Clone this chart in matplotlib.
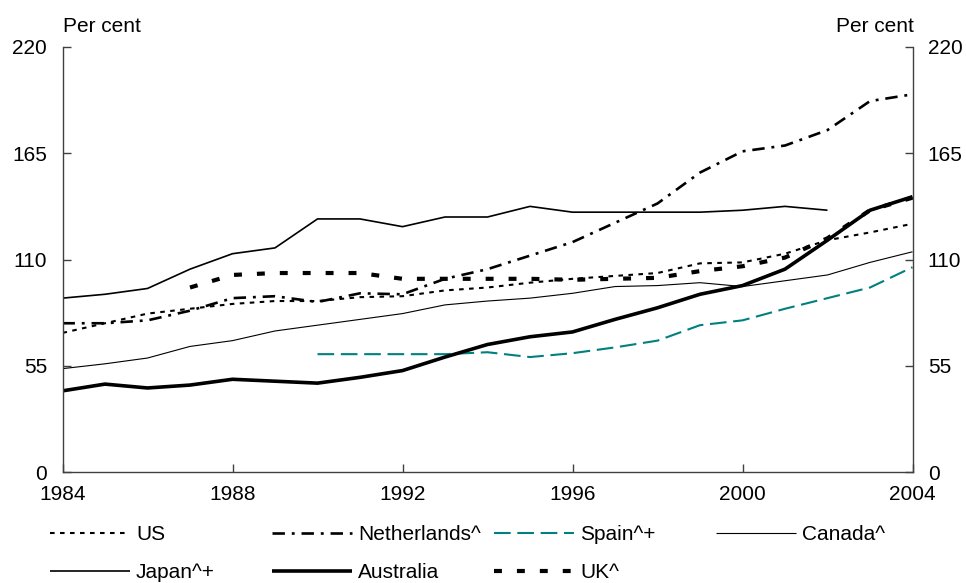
import numpy as np
import matplotlib
matplotlib.use("Agg")
import matplotlib.pyplot as plt

plt.rcParams['font.family'] = ['Liberation Sans', 'DejaVu Sans']

years = list(range(1984, 2005))
nan = np.nan
us = [72, 77, 82, 84.5, 87, 88.5, 88.5, 90.5, 91, 94, 95.5, 98, 100, 101.5, 103,
      108, 108.5, 113, 120, 124, 128.5]
netherlands = [77, 77, 78.5, 83.5, 90, 91, 88, 92.5, 92, 100, 105, 112, 119, 129,
               139, 155, 166, 169, 177, 192, 195.5]
spain = [nan, nan, nan, nan, nan, nan, 61, 61, 61, 61, 62, 59.5, 61.5, 64.5, 68,
         76, 78.5, 84.5, 90, 95.5, 106]
canada = [53.5, 56, 59, 65, 68, 73, 76, 79, 82, 86.5, 88.5, 90, 92.5, 96, 96.5,
          98, 96, 99, 102, 108.5, 114]
japan = [90, 92, 95, 105, 113, 116, 131, 131, 127, 132, 132, 137.5, 134.5, 134.5,
         134.5, 134.5, 135.5, 137.5, 135.5, nan, nan]
australia = [42, 45.5, 43.5, 45, 48, 47, 46, 49, 52.5, 59.5, 66, 70, 72.5, 79, 85,
             92, 96.5, 105, 120, 135.5, 142.5]
uk = [nan, nan, nan, 95.5, 102, 103, 103, 103, 100, 100, 100, 100, 99.5, 100,
      100.5, 104, 106.5, 111, 121, 135.5, 142]

yticks = [0, 55, 110, 165, 220]
xticks = [1984, 1988, 1992, 1996, 2000, 2004]

series = [
    ("US", us, dict(color='black', lw=1.5, linestyle=(0, (2.2, 2.6)))),
    ("Netherlands^", netherlands, dict(color='black', lw=1.9, linestyle=(0, (4.7, 2.6, 1.1, 2.6)))),
    ("Spain^+", spain, dict(color='#008080', lw=1.5, linestyle=(0, (8.0, 3.2)))),
    ("Canada^", canada, dict(color='black', lw=0.8, linestyle='-')),
    ("Japan^+", japan, dict(color='black', lw=1.2, linestyle='-')),
    ("Australia", australia, dict(color='black', lw=2.6, linestyle='-')),
    ("UK^", uk, dict(color='black', lw=3.0, linestyle=(0, (1.9, 3.6)))),
]

W, H = 966, 583
fig = plt.figure(figsize=(W / 100, H / 100), dpi=100)
ax = fig.add_axes([62.5 / W, 1 - 472 / H, (912.5 - 62.5) / W, (472 - 47) / H])

handles = []
for name, vals, style in series:
    (ln,) = ax.plot(years, vals, label=name, solid_capstyle='butt',
                    dash_capstyle='butt', **style)
    handles.append(ln)

ax.set_xlim(1984, 2004)
ax.set_ylim(0, 220)
ax.set_xticks(xticks)
ax.set_yticks(yticks)
spine_col = '#404040'
for s in ['left', 'right', 'bottom']:
    ax.spines[s].set_color(spine_col)
    ax.spines[s].set_linewidth(1.0)
ax.spines['top'].set_visible(False)
ax.tick_params(axis='y', direction='in', length=6, width=1, color=spine_col,
               labelsize=15, pad=11, left=True, right=True,
               labelleft=True, labelright=True)
ax.tick_params(axis='x', direction='in', length=6, width=1, color=spine_col,
               labelsize=15, pad=9)

fig.text(63 / W, 1 - 27 / H, "Per cent", fontsize=15, ha='left', va='center')
fig.text(914 / W, 1 - 27 / H, "Per cent", fontsize=15, ha='right', va='center')

pos = [(50, 535), (272, 535), (494, 535), (716, 535),
       (50, 573), (272, 573), (494, 573)]
for h, (px, py) in zip(handles, pos):
    fig.legend([h], [h.get_label()], loc='center left',
               bbox_to_anchor=(px / W, 1 - py / H), frameon=False,
               fontsize=15, handlelength=3.85, handletextpad=0.28,
               borderpad=0, borderaxespad=0)

fig.savefig("out.png", dpi=100)
